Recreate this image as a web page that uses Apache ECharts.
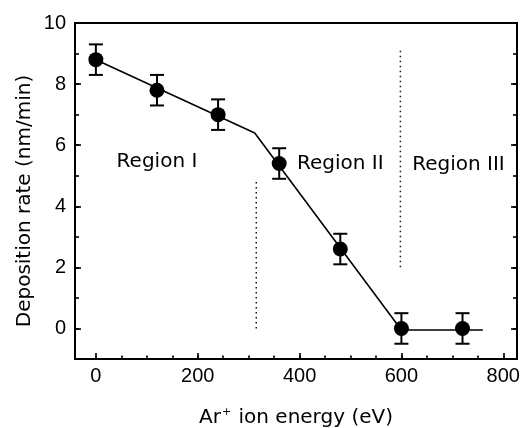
<!DOCTYPE html>
<html>
<head>
<meta charset="utf-8">
<script src="https://cdn.jsdelivr.net/npm/echarts@6/dist/echarts.min.js"></script>
<style>
  html, body { margin: 0; padding: 0; background: #fff; }
  #chart { width: 525px; height: 428px; }
</style>
</head>
<body>
<div id="chart"></div>
<script>
// Measured deposition rate versus Ar+ ion energy
const energies = [0, 120, 240, 360, 480, 600, 720];
const rates = [8.8, 7.8, 7.0, 5.4, 2.6, 0.0, 0.0];
const errors = [0.5, 0.5, 0.5, 0.5, 0.5, 0.5, 0.5];

// Piecewise linear guide through the three regimes
const fitEnergies = [0, 312, 600, 760];
const fitRates = [8.8, 6.4, -0.05, -0.05];

// Dotted boundaries between regions
const boundaryEnergies = [315, 598];
const boundaryLow = [0.0, 2.0];
const boundaryHigh = [4.9, 9.1];

// Region annotations
const regionNames = ['Region I', 'Region II', 'Region III'];
const regionEnergies = [120, 480, 712];
const regionRates = [5.45, 5.4, 5.35];

// Axis ticks
const xTicks = [0, 200, 400, 600, 800];
const xMinorTicks = [0, 50, 100, 150, 200, 250, 300, 350, 400, 450, 500, 550, 600, 650, 700, 750, 800];
const yTicks = [0, 2, 4, 6, 8, 10];
const yMinorTicks = [-1, 0, 1, 2, 3, 4, 5, 6, 7, 8, 9, 10];

const X_MIN = -41, X_MAX = 827, Y_MIN = -1, Y_MAX = 10;
const INK = '#000';
const TICK_FONT = 'Liberation Sans, Arial, sans-serif';
const TEXT_FONT = 'DejaVu Sans, sans-serif';

const chart = echarts.init(document.getElementById('chart'), null, { renderer: 'canvas' });

function tickAxis(values, len, extra) {
  return Object.assign({
    type: 'value',
    axisLine: { show: false, onZero: false },
    splitLine: { show: false },
    axisTick: { show: true, inside: true, length: len, customValues: values,
                lineStyle: { color: INK, width: 1.6 } },
    axisLabel: { show: false }
  }, extra);
}

const pointData = energies.map((e, i) => [e, rates[i]]);
const errorData = energies.map((e, i) => [e, rates[i] - errors[i], rates[i] + errors[i]]);
const fitData = fitEnergies.map((e, i) => [e, fitRates[i]]);
const regionData = regionNames.map((n, i) => ({ value: [regionEnergies[i], regionRates[i]], name: n }));

const boundarySeries = boundaryEnergies.map((e, i) => ({
  type: 'line',
  data: [[e, boundaryLow[i]], [e, boundaryHigh[i]]],
  symbol: 'none',
  silent: true,
  lineStyle: { color: '#111', width: 1.5, type: [1.5, 3.5] },
  z: 1
}));

chart.setOption({
  animation: false,
  backgroundColor: '#fff',
  grid: {
    left: 75, right: 8, top: 23, bottom: 69,
    outerBoundsMode: 'none',
    containLabel: false,
    show: true, borderColor: INK, borderWidth: 2, backgroundColor: 'transparent'
  },
  xAxis: [
    tickAxis(xTicks, 6, {
      min: X_MIN, max: X_MAX, position: 'bottom',
      axisLabel: { show: true, customValues: xTicks, fontFamily: TICK_FONT, fontSize: 20, color: INK, margin: 7 },
      name: 'Ar{sup|+} ion energy (eV)',
      nameLocation: 'middle',
      nameGap: 48,
      nameMoveOverlap: false,
      nameTextStyle: {
        fontFamily: TEXT_FONT, fontSize: 20, color: INK,
        rich: { sup: { fontFamily: TEXT_FONT, fontSize: 11, color: INK, padding: [0, 1, 10, 1] } }
      }
    }),
    tickAxis(xMinorTicks, 3.5, { min: X_MIN, max: X_MAX, position: 'bottom' })
  ],
  yAxis: [
    tickAxis(yTicks, 6, {
      min: Y_MIN, max: Y_MAX, position: 'left',
      axisLabel: { show: true, customValues: yTicks, fontFamily: TICK_FONT, fontSize: 20, color: INK, margin: 9 },
      name: 'Deposition rate (nm/min)',
      nameLocation: 'middle',
      nameGap: 40,
      nameMoveOverlap: false,
      nameTextStyle: { fontFamily: TEXT_FONT, fontSize: 20, color: INK, padding: [0, 20, 0, 0] }
    }),
    tickAxis(yMinorTicks, 4, { min: Y_MIN, max: Y_MAX, position: 'left' }),
    tickAxis(yTicks, 6, { min: Y_MIN, max: Y_MAX, position: 'right' }),
    tickAxis(yMinorTicks, 4, { min: Y_MIN, max: Y_MAX, position: 'right' })
  ],
  series: [
    ...boundarySeries,
    {
      type: 'line',
      data: fitData,
      symbol: 'none',
      silent: true,
      lineStyle: { color: INK, width: 1.6 },
      z: 2
    },
    {
      type: 'custom',
      data: errorData,
      silent: true,
      z: 3,
      renderItem: function (params, api) {
        const x = api.value(0);
        const lo = api.coord([x, api.value(1)]);
        const hi = api.coord([x, api.value(2)]);
        const half = 7;
        const style = { stroke: INK, lineWidth: 2, fill: null };
        return {
          type: 'group',
          children: [
            { type: 'line', shape: { x1: lo[0], y1: lo[1], x2: hi[0], y2: hi[1] }, style: style },
            { type: 'line', shape: { x1: hi[0] - half, y1: hi[1], x2: hi[0] + half, y2: hi[1] }, style: style },
            { type: 'line', shape: { x1: lo[0] - half, y1: lo[1], x2: lo[0] + half, y2: lo[1] }, style: style }
          ]
        };
      }
    },
    {
      type: 'scatter',
      data: pointData,
      symbol: 'circle',
      symbolSize: 15,
      itemStyle: { color: INK, opacity: 1 },
      silent: true,
      z: 4
    },
    {
      type: 'scatter',
      data: regionData,
      symbolSize: 0,
      silent: true,
      z: 5,
      itemStyle: { opacity: 1 },
      label: {
        show: true,
        position: 'inside',
        formatter: p => p.name,
        fontFamily: TEXT_FONT,
        fontSize: 20,
        color: INK,
        opacity: 1
      }
    }
  ]
});
</script>
</body>
</html>
